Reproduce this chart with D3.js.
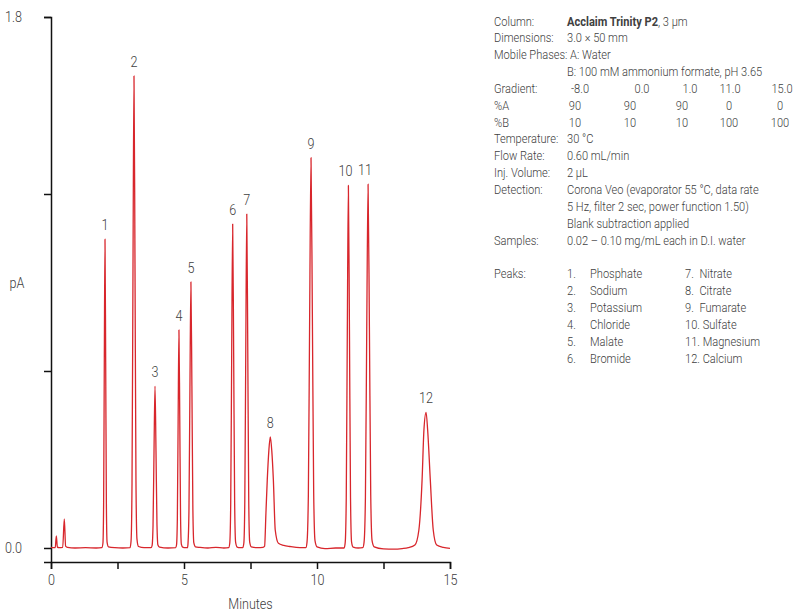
<!DOCTYPE html>
<html>
<head>
<meta charset="utf-8">
<script src="https://cdn.jsdelivr.net/npm/d3@7"></script>
<style>
  body { margin: 0; background: #fff; }
  svg text { font-family: Roboto, "Liberation Sans", sans-serif; fill: #404040; font-weight: 300; }
  .axis path, .axis line { stroke: #111; stroke-width: 1.5; }
  .axis text { font-size: 15px; }
  .info text { font-size: 13.2px; }
</style>
</head>
<body>
<div id="chart"></div>
<script>
// chromatogram trace, [minutes, pA]
const trace = [
  [0.00,0.002],[0.10,0.001],[0.16,0.001],[0.20,0.041],[0.24,0.003],[0.30,0.001],[0.44,0.002],[0.50,0.099],[0.55,0.006],[0.62,0.002],[0.9,0.0],[1.3,0.001],[1.7,0.0],
  [1.91,0.001],[1.952,0.016],[1.978,0.147],[2.004,0.63],[2.03,1.047],[2.056,0.63],[2.082,0.15],[2.108,0.02],[2.16,0.004],[2.4,0.001],[2.7,0.0],
  [2.97,0.001],[3.01,0.024],[3.046,0.22],[3.083,0.96],[3.12,1.60],[3.157,0.97],[3.194,0.23],[3.232,0.03],[3.29,0.005],[3.5,0.001],
  [3.76,0.001],[3.80,0.008],[3.836,0.077],[3.873,0.33],[3.91,0.549],[3.947,0.33],[3.984,0.08],[4.02,0.01],[4.08,0.003],[4.4,0.0],
  [4.69,0.001],[4.72,0.011],[4.75,0.10],[4.78,0.44],[4.81,0.739],[4.84,0.45],[4.87,0.11],[4.90,0.013],[4.95,0.003],[5.05,0.001],
  [5.13,0.001],[5.15,0.014],[5.186,0.126],[5.223,0.54],[5.26,0.902],[5.297,0.55],[5.334,0.13],[5.37,0.017],[5.43,0.004],
  [5.6,0.002],[5.9,0.0],[6.2,0.002],[6.5,0.0],
  [6.68,0.001],[6.72,0.016],[6.756,0.15],[6.793,0.66],[6.83,1.098],[6.867,0.66],[6.904,0.155],[6.94,0.02],[7.0,0.003],[7.1,0.001],
  [7.21,0.001],[7.25,0.017],[7.286,0.16],[7.323,0.68],[7.36,1.132],[7.397,0.68],[7.434,0.16],[7.47,0.02],[7.53,0.004],[7.75,0.001],
  [7.97,0.002],[8.03,0.006],[8.08,0.118],[8.13,0.23],[8.19,0.33],[8.244,0.377],[8.30,0.33],[8.36,0.23],[8.43,0.061],[8.55,0.016],[8.75,0.009],[8.98,0.005],[9.36,0.001],
  [9.58,0.001],[9.625,0.02],[9.675,0.18],[9.725,0.80],[9.775,1.323],[9.825,0.80],[9.875,0.19],[9.925,0.025],[10.0,0.004],[10.3,-0.002],[10.7,0.0],
  [11.02,0.0],[11.06,0.018],[11.10,0.17],[11.14,0.74],[11.18,1.229],[11.22,0.74],[11.26,0.17],[11.30,0.02],[11.36,0.003],[11.55,0.0],
  [11.72,0.001],[11.77,0.02],[11.82,0.17],[11.87,0.74],[11.92,1.233],[11.97,0.75],[12.02,0.18],[12.07,0.025],[12.15,0.004],[12.5,-0.003],[12.9,-0.004],[13.2,-0.002],
  [13.43,0.001],[13.68,0.01],[13.83,0.061],[13.95,0.23],[14.02,0.40],[14.10,0.46],[14.16,0.40],[14.26,0.23],[14.37,0.061],[14.50,0.01],[14.75,0.002],[15.0,-0.001]
]

// peak apexes for the number labels
const peakRT = [2.03, 3.12, 3.91, 4.81, 5.26, 6.83, 7.36, 8.244, 9.775, 11.18, 11.92, 14.10]
const peakHeight = [1.047, 1.60, 0.549, 0.739, 0.902, 1.098, 1.132, 0.377, 1.323, 1.229, 1.233, 0.46]
const peakNames = ['Phosphate','Sodium','Potassium','Chloride','Malate','Bromide','Nitrate','Citrate','Fumarate','Sulfate','Magnesium','Calcium']

const xTicks = [0, 2.5, 5, 7.5, 10, 12.5, 15]
const yTicks = [0, 0.6, 1.2, 1.8]

// conditions panel
const infoLabels = ['Column:','Dimensions:','Mobile Phases:','','Gradient:','%A','%B','Temperature:','Flow Rate:','Inj. Volume:','Detection:','','','Samples:']
const infoValues = ['', '3.0 \u00d7 50 mm', 'A: Water', 'B: 100 mM ammonium formate, pH 3.65', '', '', '',
  '30 \u00b0C', '0.60 mL/min', '2 \u00b5L', 'Corona Veo (evaporator 55 \u00b0C, data rate',
  '5 Hz, filter 2 sec, power function 1.50)', 'Blank subtraction applied', '0.02 \u2013 0.10 mg/mL each in D.I. water']
const gradientTimes = ['-8.0','0.0','1.0','11.0','15.0']
const pctA = ['90','90','90','0','0']
const pctB = ['10','10','10','100','100']

const width = 796, height = 612;
const narrow = 0.84  // the original type is a condensed face

const svg = d3.select('#chart').append('svg')
  .attr('width', width)
  .attr('height', height)

// condensed text placed at absolute coordinates
const addText = (g, px, py, str, anchor) => g.append('text')
  .attr('transform', `translate(${px},${py}) scale(${narrow},1)`)
  .attr('text-anchor', anchor || 'start')
  .text(str)

const x = d3.scaleLinear().domain([0, 15]).range([51, 450])
const y = d3.scaleLinear().domain([-0.0475, 1.8]).range([562, 17])

// axes
const xAxis = svg.append('g')
  .attr('class', 'axis')
  .attr('transform', `translate(0,${y.range()[0]})`)
  .call(d3.axisBottom(x).tickValues(xTicks).tickSizeOuter(0).tickSize(7).tickPadding(5)
    .tickFormat(d => d % 5 === 0 ? d : ''))

const yAxis = svg.append('g')
  .attr('class', 'axis')
  .attr('transform', `translate(${x.range()[0]},0)`)
  .call(d3.axisLeft(y).tickValues(yTicks).tickSizeOuter(0).tickSize(7).tickPadding(0)
    .tickFormat(d => (d === 0 || d === 1.8) ? d3.format('.1f')(d) : ''))

xAxis.selectAll('.tick text').attr('fill', '#404040')
  .attr('transform', `scale(${narrow},1)`)
  .attr('x', 0)
yAxis.selectAll('.tick text').attr('fill', '#404040')
  .attr('x', null)
  .attr('text-anchor', 'start')
  .attr('transform', `translate(-46,0) scale(${narrow},1)`)

const lab = svg.append('g').style('font-size', '15px')
addText(lab, 17, 288, 'pA', 'middle')
addText(lab, (x.range()[0] + x.range()[1]) / 2, 609, 'Minutes', 'middle')

// trace
const line = d3.line()
  .curve(d3.curveMonotoneX)
  .x(d => x(d[0]))
  .y(d => y(d[1]))

svg.append('path')
  .datum(trace)
  .attr('fill', 'none')
  .attr('stroke', '#d8262c')
  .attr('stroke-width', 1.3)
  .attr('stroke-linejoin', 'round')
  .attr('d', line)

// peak numbers
const labelDx = {10: -3, 11: -3}
const peakLab = svg.append('g').style('font-size', '15px')
peakRT.forEach((rt, i) => {
  addText(peakLab, x(rt) + (labelDx[i + 1] || 0), y(peakHeight[i]) - 9, i + 1, 'middle')
})

// conditions panel
const info = svg.append('g').attr('class', 'info')
const rowH = 16.85, topY = 25.5, labX = 494, valX = 567

infoLabels.forEach((l, i) => {
  addText(info, labX, topY + i * rowH, l)
  // "A: Water" sits right after the long "Mobile Phases:" label
  if (infoValues[i]) addText(info, valX + (i === 2 ? 3 : 0), topY + i * rowH, infoValues[i])
})

let col = addText(info, valX, topY, '')
col.append('tspan').style('font-weight', 'bold').text('Acclaim Trinity P2')
col.append('tspan').text(', 3 \u00b5m')

const gradX = [580, 642, 690, 730, 782]
const compX = [575, 630, 682, 729, 780]
gradientTimes.forEach((t, j) => {
  addText(info, gradX[j], topY + 4 * rowH, t, 'middle')
  addText(info, compX[j], topY + 5 * rowH, pctA[j], 'middle')
  addText(info, compX[j], topY + 6 * rowH, pctB[j], 'middle')
})

const peaksTop = topY + 15 * rowH
addText(info, labX, peaksTop, 'Peaks:')
peakNames.forEach((name, i) => {
  let r = i % 6
  if (i < 6) {
    addText(info, 567, peaksTop + r * rowH, (i + 1) + '.')
    addText(info, 590, peaksTop + r * rowH, name)
  } else {
    addText(info, 685, peaksTop + r * rowH, i + 1 < 10 ? (i + 1) + '.\u2002' + name : (i + 1) + '. ' + name)
  }
})
</script>
</body>
</html>
